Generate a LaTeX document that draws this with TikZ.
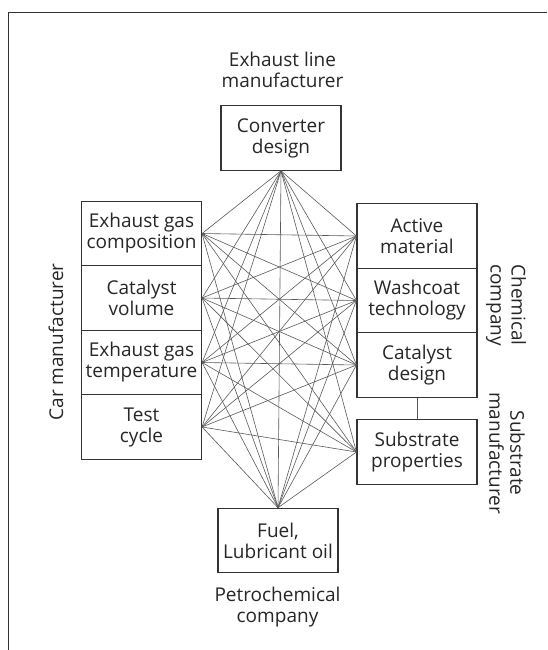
\documentclass[tikz,border=0pt]{standalone}
\usepackage{fontspec}
\setmainfont{Open Sans}
\begin{document}
\begin{tikzpicture}[x=1pt, y=-1pt,
    box/.style={rectangle, draw=black!80, line width=1.1pt, minimum width=120pt, minimum height=64.5pt, inner sep=0pt, align=center, text=black!85, font=\fontsize{19}{21}\selectfont},
    lbl/.style={align=center, text=black!85, font=\fontsize{19}{21}\selectfont},
    link/.style={draw=black!65, line width=0.6pt}]
      \useasboundingbox (0,0) rectangle (547,650);
      \draw[line width=1.2pt, black!80] (8.5,650) |- (547,12.5);

      % Nodes
      \node[box] at (281, 138) (conv) {Converter\\design};
      \node[box] at (141.5, 233.5) (comp) {Exhaust gas\\composition};
      \node[box] at (141.5, 298) (vol) {Catalyst\\volume};
      \node[box] at (141.5, 362.5) (temp) {Exhaust gas\\temperature};
      \node[box] at (141.5, 427) (cycle) {Test\\cycle};
      \node[box] at (417, 236) (active) {Active\\material};
      \node[box] at (417, 300.5) (wash) {Washcoat\\technology};
      \node[box] at (417, 365) (catdes) {Catalyst\\design};
      \node[box] at (417, 452) (subst) {Substrate\\properties};
      \node[box] at (278, 540.5) (fuel) {Fuel,\\Lubricant oil};

      % Labels
      \node[lbl] at (282.5, 70) (exhaustlbl) {Exhaust line\\manufacturer};
      \node[lbl] at (277.5, 607) (petrolbl) {Petrochemical\\company};
      \node[lbl, rotate=90] at (56, 342) (carlbl) {Car manufacturer};
      \node[lbl, rotate=-90] at (506, 305) (chemlbl) {Chemical\\company};
      \node[lbl, rotate=-90] at (507, 453) (substlbl) {Substrate\\manufacturer};

      \draw[link] (catdes) -- (subst);
      \draw[link] (conv.south) edge (comp.east) edge (vol.east) edge (temp.east) edge (cycle.east)
        edge (active.west) edge (wash.west) edge (catdes.west) edge (subst.west) edge (fuel.north);
      \draw[link] (fuel.north) edge (comp.east) edge (vol.east) edge (temp.east) edge (cycle.east)
        edge (active.west) edge (wash.west) edge (catdes.west) edge (subst.west);
      \draw[link] (comp.east) edge (active.west) edge (wash.west) edge (catdes.west) edge (subst.west);
      \draw[link] (vol.east) edge (active.west) edge (wash.west) edge (catdes.west) edge (subst.west);
      \draw[link] (temp.east) edge (active.west) edge (wash.west) edge (catdes.west) edge (subst.west);
      \draw[link] (cycle.east) edge (active.west) edge (wash.west) edge (catdes.west) edge (subst.west);
    \end{tikzpicture}
\end{document}
